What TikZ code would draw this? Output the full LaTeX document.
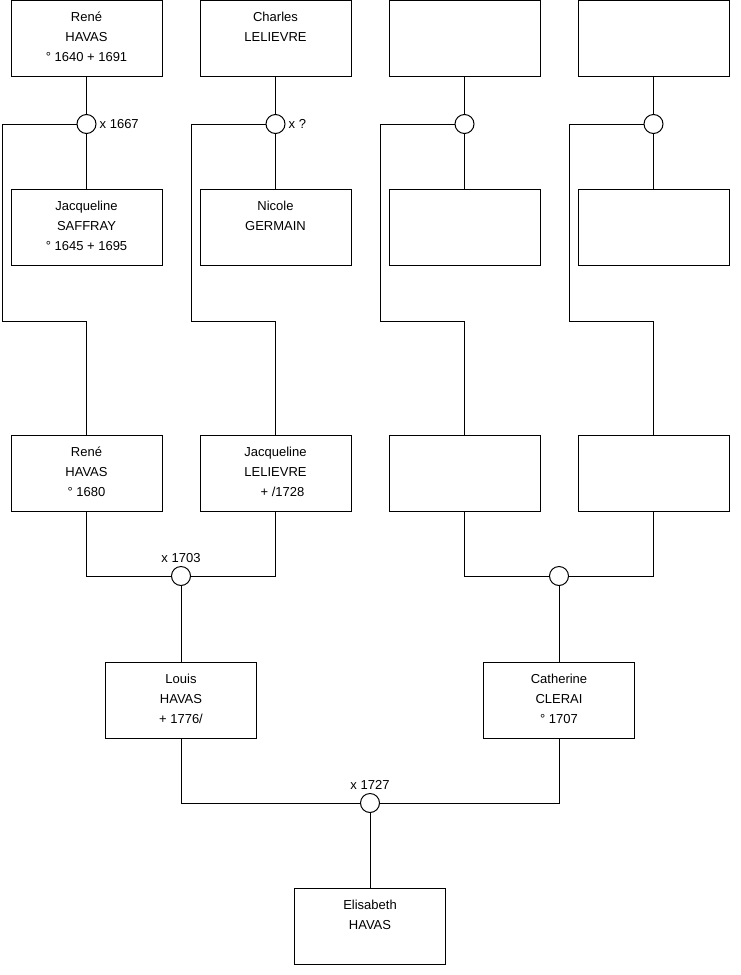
\documentclass[tikz,border=0pt]{standalone}
\usepackage{fontspec}
\setmainfont{Liberation Sans}
\usetikzlibrary{positioning,calc}
\newcommand{\indiv}[3]{#1\strut\\#2\strut\\#3\rule[-7pt]{0pt}{0pt}}

\begin{document}
\begin{tikzpicture}[
    x=1pt, y=-1pt,
    font=\fontsize{13}{20}\selectfont,
    node distance=38pt,
    person/.style={rectangle, draw=black, line width=1pt, minimum width=151pt, minimum height=76pt, inner sep=0pt, outer sep=0pt, align=center},
    wed/.style={circle, draw=black, line width=1pt, fill=white, minimum size=19pt, inner sep=0pt, outer sep=0pt},
    link/.style={line width=1pt, draw=black},
    date/.style={inner sep=0pt},
  ]
  \useasboundingbox (0,0) rectangle (740,975);

  % Generation 1
  \node[person] (rene1) at (86.5,38) {\indiv{René}{HAVAS}{° 1640 + 1691}};
  \node[person, right=of rene1] (charles) {\indiv{Charles}{LELIEVRE}{}};
  \node[person, right=of charles] (anc3) {};
  \node[person, right=of anc3] (anc4) {};

  \node[wed, below=38.5pt of rene1] (m1) {};
  \node[wed, below=38.5pt of charles] (m2) {};
  \node[wed, below=38.5pt of anc3] (m3) {};
  \node[wed, below=38.5pt of anc4] (m4) {};

  \node[person, below=55.5pt of m1] (jacq1) {\indiv{Jacqueline}{SAFFRAY}{° 1645 + 1695}};
  \node[person, below=55.5pt of m2] (nicole) {\indiv{Nicole}{GERMAIN}{}};
  \node[person, below=55.5pt of m3] (wife3) {};
  \node[person, below=55.5pt of m4] (wife4) {};

  \draw[link] (rene1) -- (m1);
  \draw[link] (charles) -- (m2);
  \draw[link] (anc3) -- (m3);
  \draw[link] (anc4) -- (m4);
  \draw[link] (m1) -- (jacq1);
  \draw[link] (m2) -- (nicole);
  \draw[link] (m3) -- (wife3);
  \draw[link] (m4) -- (wife4);

  % Generation 2
  \node[person, below=170pt of jacq1] (rene2) {\indiv{René}{HAVAS}{° 1680}};
  \node[person, below=170pt of nicole] (jacq2) {\indiv{Jacqueline}{LELIEVRE}{\hspace*{14pt}+ /1728}};
  \node[person, below=170pt of wife3] (child3) {};
  \node[person, below=170pt of wife4] (child4) {};

  \coordinate (k1) at (2,321);
  \coordinate (k2) at (191,321);
  \coordinate (k3) at (380,321);
  \coordinate (k4) at (569,321);

  \draw[link] (m1.west) -| (k1) -| (rene2.north);
  \draw[link] (m2.west) -| (k2) -| (jacq2.north);
  \draw[link] (m3.west) -| (k3) -| (child3.north);
  \draw[link] (m4.west) -| (k4) -| (child4.north);

  \node[wed] (m5) at ($(rene2.south)!0.5!(jacq2.south)+(0,65)$) {};
  \node[wed] (m6) at ($(child3.south)!0.5!(child4.south)+(0,65)$) {};

  \draw[link] (rene2.south) |- (m5.west);
  \draw[link] (jacq2.south) |- (m5.east);
  \draw[link] (child3.south) |- (m6.west);
  \draw[link] (child4.south) |- (m6.east);

  % Generation 3
  \node[person, below=76.5pt of m5] (louis) {\indiv{Louis}{HAVAS}{+ 1776/}};
  \node[person, below=76.5pt of m6] (cath) {\indiv{Catherine}{CLERAI}{° 1707}};

  \draw[link] (m5) -- (louis);
  \draw[link] (m6) -- (cath);

  \node[wed] (m7) at ($(louis.south)!0.5!(cath.south)+(0,65)$) {};
  \draw[link] (louis.south) |- (m7.west);
  \draw[link] (cath.south) |- (m7.east);

  % Generation 4
  \node[person, below=75.5pt of m7] (elis) {\indiv{Elisabeth}{HAVAS}{}};
  \draw[link] (m7) -- (elis);

  % Marriage dates
  \node[date, right=3.5pt of m1] (d1) {x 1667};
  \node[date, right=3.5pt of m2] (d2) {x ?};
  \node[date, above=3.5pt of m5] (d5) {x 1703};
  \node[date, above=3.5pt of m7] (d7) {x 1727};
\end{tikzpicture}
\end{document}
